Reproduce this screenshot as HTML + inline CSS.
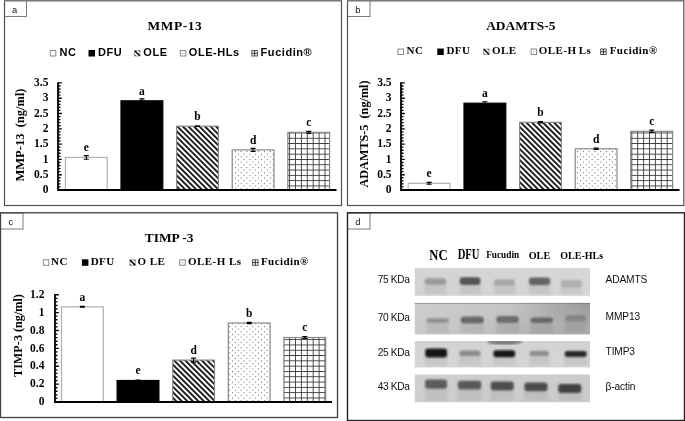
<!DOCTYPE html><html><head><meta charset="utf-8"><style>
html,body{margin:0;padding:0;background:#fff;width:685px;height:421px;overflow:hidden}
svg{display:block;filter:grayscale(1)}
.lt{font-family:'Liberation Serif', serif;font-weight:bold;font-size:11.5px;fill:#000}
.tk{font-family:'Liberation Serif', serif;font-weight:bold;fill:#000}
.ti{font-family:'Liberation Serif', serif;font-weight:bold;font-size:13.4px;fill:#000}
.yt{font-family:'Liberation Serif', serif;font-weight:bold;font-size:12.2px;fill:#000}
.yt2{font-family:'Liberation Serif', serif;font-weight:bold;font-size:12.5px;fill:#000}
.lgs{font-family:'Liberation Sans', sans-serif;font-weight:bold;font-size:11px;letter-spacing:0.55px;fill:#000}
.lgr{font-family:'Liberation Serif', serif;font-weight:bold;font-size:11px;letter-spacing:0.45px;fill:#000}
.pl{font-family:'Liberation Sans', sans-serif;font-size:9.4px;fill:#111}
.kd{font-family:'Liberation Sans', sans-serif;font-size:10.2px;fill:#111}
</style></head><body>
<svg width="685" height="421" viewBox="0 0 685 421">
<defs>
<pattern id="stripe" patternUnits="userSpaceOnUse" width="3.9" height="3.9" patternTransform="rotate(-45)"><rect x="0" y="0" width="3.9" height="3.9" fill="#fff"/><rect x="0" y="0" width="1.7" height="3.9" fill="#000"/></pattern>
<pattern id="dots" patternUnits="userSpaceOnUse" width="5.8" height="5.3"><rect width="5.8" height="5.3" fill="#fff"/><rect x="0" y="0" width="1" height="1" fill="#666"/><rect x="2.9" y="2.65" width="1" height="1" fill="#666"/></pattern>
<pattern id="grid" patternUnits="userSpaceOnUse" width="5.9" height="5.3"><rect width="5.9" height="5.3" fill="#fff"/><rect x="0" y="0" width="0.9" height="5.3" fill="#3a3a3a"/><rect x="0" y="0" width="5.9" height="0.9" fill="#3a3a3a"/></pattern>
<filter id="blur1"><feGaussianBlur stdDeviation="1.2"/></filter>
<filter id="blur2"><feGaussianBlur stdDeviation="1.5"/></filter>
<linearGradient id="gA" x1="0" y1="0" x2="1" y2="0"><stop offset="0" stop-color="#d3d3d3"/><stop offset="1" stop-color="#d6d6d6"/></linearGradient>
<linearGradient id="gB" x1="0" y1="0" x2="1" y2="0.3"><stop offset="0" stop-color="#cdcdcd"/><stop offset="0.5" stop-color="#c6c6c6"/><stop offset="1" stop-color="#adadad"/></linearGradient>
<linearGradient id="gC" x1="0" y1="0" x2="0" y2="1"><stop offset="0" stop-color="#d2d2d2"/><stop offset="1" stop-color="#d6d6d6"/></linearGradient>
<linearGradient id="gD" x1="0" y1="0" x2="1" y2="0"><stop offset="0" stop-color="#cfcfcf"/><stop offset="1" stop-color="#cbcbcb"/></linearGradient>
<radialGradient id="gBt" cx="1" cy="0" r="0.75" gradientTransform="translate(1 0) scale(0.6 1) translate(-1 0)"><stop offset="0" stop-color="#000" stop-opacity="0.13"/><stop offset="1" stop-color="#000" stop-opacity="0"/></radialGradient>
</defs>
<rect width="685" height="421" fill="#fff"/>
<text x="147.5" y="30.3" class="ti" style="letter-spacing:0.6px">MMP-13</text>
<rect x="50.3" y="50.5" width="5.5" height="5.5" fill="#fff" stroke="#888" stroke-width="1"/>
<text x="59.4" y="56.2" class="lgs">NC</text>
<rect x="88.5" y="50" width="6.5" height="6.5" fill="#000"/>
<text x="97.9" y="56.2" class="lgs">DFU</text>
<rect x="134.5" y="50.5" width="5.5" height="5.5" fill="#fff" stroke="#aaa" stroke-width="1"/>
<path d="M134.8 50.8L139.8 55.8" stroke="#000" stroke-width="1.5"/>
<path d="M138.8 50.6L140.2 52M134.6 54.8L135.8 56" stroke="#333" stroke-width="1"/>
<text x="143.3" y="56.2" class="lgs">OLE</text>
<rect x="180.3" y="50.5" width="5.5" height="5.5" fill="#fff" stroke="#888" stroke-width="1"/>
<rect x="182.3" y="53" width="1" height="1" fill="#777"/>
<text x="188.8" y="56.2" class="lgs">OLE-HLs</text>
<rect x="251.9" y="50.5" width="5.5" height="5.5" fill="#fff" stroke="#555" stroke-width="1"/>
<path d="M254.65 50.5V56M251.9 53.25H257.4" stroke="#333" stroke-width="1"/>
<text x="260.6" y="56.2" class="lgs">Fucidin®</text>
<rect x="65.4" y="157.4" width="41.8" height="32.6" fill="#fff" stroke="#b0b0b0" stroke-width="1.2"/>
<path d="M86.3 155.6V159.2M83.8 155.6h5M83.8 159.2h5" stroke="#000" stroke-width="1.1" fill="none"/>
<text x="86.3" y="151.3" text-anchor="middle" class="lt">e</text>
<rect x="121" y="100.8" width="41.8" height="89.2" fill="#000" stroke="#000" stroke-width="1.2"/>
<path d="M141.9 98.9V102.7M139.4 98.9h5M139.4 102.7h5" stroke="#000" stroke-width="1.1" fill="none"/>
<text x="141.9" y="94.7" text-anchor="middle" class="lt">a</text>
<rect x="176.6" y="126.2" width="41.8" height="63.8" fill="url(#stripe)" stroke="#888" stroke-width="1.2"/>
<path d="M195 126.2h5" stroke="#000" stroke-width="1.6" fill="none"/>
<text x="197.5" y="120.1" text-anchor="middle" class="lt">b</text>
<rect x="232.2" y="149.9" width="41.8" height="40.1" fill="url(#dots)" stroke="#888" stroke-width="1.2"/>
<path d="M253.1 148.4V151.4M250.6 148.4h5M250.6 151.4h5" stroke="#000" stroke-width="1.1" fill="none"/>
<text x="253.1" y="143.8" text-anchor="middle" class="lt">d</text>
<rect x="287.8" y="132.4" width="41.8" height="57.6" fill="url(#grid)" stroke="#888" stroke-width="1.2"/>
<path d="M308.7 131.4V133.4M306.2 131.4h5M306.2 133.4h5" stroke="#000" stroke-width="1.1" fill="none"/>
<text x="308.7" y="126.3" text-anchor="middle" class="lt">c</text>
<path d="M58 190h3.8M58 186.94h2.5M58 183.88h2.5M58 180.82h2.5M58 177.76h2.5M58 174.7h3.8M58 171.64h2.5M58 168.58h2.5M58 165.52h2.5M58 162.46h2.5M58 159.4h3.8M58 156.34h2.5M58 153.28h2.5M58 150.22h2.5M58 147.16h2.5M58 144.1h3.8M58 141.04h2.5M58 137.98h2.5M58 134.92h2.5M58 131.86h2.5M58 128.8h3.8M58 125.74h2.5M58 122.68h2.5M58 119.62h2.5M58 116.56h2.5M58 113.5h3.8M58 110.44h2.5M58 107.38h2.5M58 104.32h2.5M58 101.26h2.5M58 98.2h3.8M58 95.14h2.5M58 92.08h2.5M58 89.02h2.5M58 85.96h2.5M58 82.9h3.8" stroke="#000" stroke-width="1.35" fill="none"/>
<path d="M58 82.3V190H336.5" stroke="#000" stroke-width="1.8" fill="none"/>
<text x="48.4" y="193.2" text-anchor="end" class="tk" style="font-size:11.5px">0</text>
<text x="48.4" y="177.9" text-anchor="end" class="tk" style="font-size:11.5px">0.5</text>
<text x="48.4" y="162.6" text-anchor="end" class="tk" style="font-size:11.5px">1</text>
<text x="48.4" y="147.3" text-anchor="end" class="tk" style="font-size:11.5px">1.5</text>
<text x="48.4" y="132" text-anchor="end" class="tk" style="font-size:11.5px">2</text>
<text x="48.4" y="116.7" text-anchor="end" class="tk" style="font-size:11.5px">2.5</text>
<text x="48.4" y="101.4" text-anchor="end" class="tk" style="font-size:11.5px">3</text>
<text x="48.4" y="86.1" text-anchor="end" class="tk" style="font-size:11.5px">3.5</text>
<text transform="translate(24,181.5) rotate(-90)" class="yt2" xml:space="preserve">MMP-13  (ng/ml)</text>
<text x="486.2" y="30.3" class="ti">ADAMTS-5</text>
<rect x="398.0" y="49.0" width="5.5" height="5.5" fill="#fff" stroke="#888" stroke-width="1"/>
<text x="406.5" y="54.4" class="lgr">NC</text>
<rect x="437.3" y="48.5" width="6.5" height="6.5" fill="#000"/>
<text x="446.4" y="54.4" class="lgr">DFU</text>
<rect x="483.6" y="49.0" width="5.5" height="5.5" fill="#fff" stroke="#aaa" stroke-width="1"/>
<path d="M483.90000000000003 49.3L488.90000000000003 54.3" stroke="#000" stroke-width="1.5"/>
<path d="M487.90000000000003 49.1L489.3 50.5M483.70000000000005 53.3L484.90000000000003 54.5" stroke="#333" stroke-width="1"/>
<text x="491.9" y="54.4" class="lgr">OLE</text>
<rect x="531.1" y="49.0" width="5.5" height="5.5" fill="#fff" stroke="#888" stroke-width="1"/>
<rect x="533.1" y="51.5" width="1" height="1" fill="#777"/>
<text x="538.8" y="54.4" class="lgr">OLE-H<tspan dx="2.2">Ls</tspan></text>
<rect x="600.7" y="49.0" width="5.5" height="5.5" fill="#fff" stroke="#555" stroke-width="1"/>
<path d="M603.45 49.0V54.5M600.7 51.75H606.2" stroke="#333" stroke-width="1"/>
<text x="609.7" y="54.4" class="lgr">Fucidin®</text>
<rect x="408.2" y="183.3" width="41.8" height="6.7" fill="#fff" stroke="#b0b0b0" stroke-width="1.2"/>
<path d="M429.1 182.4V184.2M426.6 182.4h5M426.6 184.2h5" stroke="#000" stroke-width="1.1" fill="none"/>
<text x="429.1" y="177.2" text-anchor="middle" class="lt">e</text>
<rect x="464" y="103.2" width="41.8" height="86.8" fill="#000" stroke="#000" stroke-width="1.2"/>
<path d="M484.9 101.7V104.7M482.4 101.7h5M482.4 104.7h5" stroke="#000" stroke-width="1.1" fill="none"/>
<text x="484.9" y="97.1" text-anchor="middle" class="lt">a</text>
<rect x="519.6" y="122.3" width="41.8" height="67.7" fill="url(#stripe)" stroke="#888" stroke-width="1.2"/>
<path d="M540.5 121.6V123M538 121.6h5M538 123h5" stroke="#000" stroke-width="1.1" fill="none"/>
<text x="540.5" y="116.2" text-anchor="middle" class="lt">b</text>
<rect x="575.2" y="148.8" width="41.8" height="41.2" fill="url(#dots)" stroke="#888" stroke-width="1.2"/>
<path d="M596.1 148.1V149.5M593.6 148.1h5M593.6 149.5h5" stroke="#000" stroke-width="1.1" fill="none"/>
<text x="596.1" y="142.7" text-anchor="middle" class="lt">d</text>
<rect x="630.8" y="131.3" width="41.8" height="58.7" fill="url(#grid)" stroke="#888" stroke-width="1.2"/>
<path d="M651.7 130.1V132.5M649.2 130.1h5M649.2 132.5h5" stroke="#000" stroke-width="1.1" fill="none"/>
<text x="651.7" y="125.2" text-anchor="middle" class="lt">c</text>
<path d="M401 190h3.8M401 186.94h2.5M401 183.88h2.5M401 180.82h2.5M401 177.76h2.5M401 174.7h3.8M401 171.64h2.5M401 168.58h2.5M401 165.52h2.5M401 162.46h2.5M401 159.4h3.8M401 156.34h2.5M401 153.28h2.5M401 150.22h2.5M401 147.16h2.5M401 144.1h3.8M401 141.04h2.5M401 137.98h2.5M401 134.92h2.5M401 131.86h2.5M401 128.8h3.8M401 125.74h2.5M401 122.68h2.5M401 119.62h2.5M401 116.56h2.5M401 113.5h3.8M401 110.44h2.5M401 107.38h2.5M401 104.32h2.5M401 101.26h2.5M401 98.2h3.8M401 95.14h2.5M401 92.08h2.5M401 89.02h2.5M401 85.96h2.5M401 82.9h3.8" stroke="#000" stroke-width="1.35" fill="none"/>
<path d="M401 82.3V190H679.5" stroke="#000" stroke-width="1.8" fill="none"/>
<text x="391.5" y="193.2" text-anchor="end" class="tk" style="font-size:11.5px">0</text>
<text x="391.5" y="177.9" text-anchor="end" class="tk" style="font-size:11.5px">0.5</text>
<text x="391.5" y="162.6" text-anchor="end" class="tk" style="font-size:11.5px">1</text>
<text x="391.5" y="147.3" text-anchor="end" class="tk" style="font-size:11.5px">1.5</text>
<text x="391.5" y="132" text-anchor="end" class="tk" style="font-size:11.5px">2</text>
<text x="391.5" y="116.7" text-anchor="end" class="tk" style="font-size:11.5px">2.5</text>
<text x="391.5" y="101.4" text-anchor="end" class="tk" style="font-size:11.5px">3</text>
<text x="391.5" y="86.1" text-anchor="end" class="tk" style="font-size:11.5px">3.5</text>
<text transform="translate(368,187.5) rotate(-90)" class="yt" xml:space="preserve">ADAMTS-5  (ng/ml)</text>
<text x="144.8" y="241.6" class="ti" xml:space="preserve">TIMP -3</text>
<rect x="43.3" y="259.8" width="5.5" height="5.5" fill="#fff" stroke="#888" stroke-width="1"/>
<text x="51" y="265.2" class="lgr" xml:space="preserve">NC</text>
<rect x="81.9" y="259.3" width="6.5" height="6.5" fill="#000"/>
<text x="90.7" y="265.2" class="lgr" xml:space="preserve">DFU</text>
<rect x="129.8" y="259.8" width="5.5" height="5.5" fill="#fff" stroke="#aaa" stroke-width="1"/>
<path d="M130.10000000000002 260.1L135.10000000000002 265.1" stroke="#000" stroke-width="1.5"/>
<path d="M134.10000000000002 259.90000000000003L135.5 261.3M129.9 264.1L131.10000000000002 265.3" stroke="#333" stroke-width="1"/>
<text x="137.5" y="265.2" class="lgr" xml:space="preserve">O LE</text>
<rect x="179.7" y="259.8" width="5.5" height="5.5" fill="#fff" stroke="#888" stroke-width="1"/>
<rect x="181.7" y="262.3" width="1" height="1" fill="#777"/>
<text x="188" y="265.2" class="lgr" xml:space="preserve">OLE-H Ls</text>
<rect x="252.6" y="259.8" width="5.5" height="5.5" fill="#fff" stroke="#555" stroke-width="1"/>
<path d="M255.35 259.8V265.3M252.6 262.55H258.1" stroke="#333" stroke-width="1"/>
<text x="260.9" y="265.2" class="lgr" xml:space="preserve">Fucidin®</text>
<rect x="61.5" y="306.8" width="41.8" height="95.2" fill="#fff" stroke="#b0b0b0" stroke-width="1.2"/>
<path d="M82.4 306.3V307.3M79.9 306.3h5M79.9 307.3h5" stroke="#000" stroke-width="1.1" fill="none"/>
<text x="82.4" y="300.7" text-anchor="middle" class="lt">a</text>
<rect x="117.1" y="380.5" width="41.8" height="21.5" fill="#000" stroke="#000" stroke-width="1.2"/>
<path d="M138 380.1V380.9M135.5 380.1h5M135.5 380.9h5" stroke="#000" stroke-width="1.1" fill="none"/>
<text x="138" y="374.4" text-anchor="middle" class="lt">e</text>
<rect x="172.7" y="360.1" width="41.8" height="41.9" fill="url(#stripe)" stroke="#888" stroke-width="1.2"/>
<path d="M193.6 358.1V362.1M191.1 358.1h5M191.1 362.1h5" stroke="#000" stroke-width="1.1" fill="none"/>
<text x="193.6" y="354" text-anchor="middle" class="lt">d</text>
<rect x="228.3" y="323" width="41.8" height="79" fill="url(#dots)" stroke="#888" stroke-width="1.2"/>
<path d="M249.2 322.4V323.6M246.7 322.4h5M246.7 323.6h5" stroke="#000" stroke-width="1.1" fill="none"/>
<text x="249.2" y="316.9" text-anchor="middle" class="lt">b</text>
<rect x="283.9" y="337.5" width="41.8" height="64.5" fill="url(#grid)" stroke="#888" stroke-width="1.2"/>
<path d="M304.8 336.5V338.5M302.3 336.5h5M302.3 338.5h5" stroke="#000" stroke-width="1.1" fill="none"/>
<text x="304.8" y="331.4" text-anchor="middle" class="lt">c</text>
<path d="M55 402h3.8M55 398.42h2.5M55 394.85h2.5M55 391.27h2.5M55 387.7h2.5M55 384.12h3.8M55 380.54h2.5M55 376.97h2.5M55 373.39h2.5M55 369.82h2.5M55 366.24h3.8M55 362.66h2.5M55 359.09h2.5M55 355.51h2.5M55 351.94h2.5M55 348.36h3.8M55 344.78h2.5M55 341.21h2.5M55 337.63h2.5M55 334.06h2.5M55 330.48h3.8M55 326.9h2.5M55 323.33h2.5M55 319.75h2.5M55 316.18h2.5M55 312.6h3.8M55 309.02h2.5M55 305.45h2.5M55 301.87h2.5M55 298.3h2.5M55 294.72h3.8" stroke="#000" stroke-width="1.35" fill="none"/>
<path d="M55 294.12V402H332" stroke="#000" stroke-width="1.8" fill="none"/>
<text x="44.4" y="405.2" text-anchor="end" class="tk" style="font-size:11.5px">0</text>
<text x="44.4" y="387.32" text-anchor="end" class="tk" style="font-size:11.5px">0.2</text>
<text x="44.4" y="369.44" text-anchor="end" class="tk" style="font-size:11.5px">0.4</text>
<text x="44.4" y="351.56" text-anchor="end" class="tk" style="font-size:11.5px">0.6</text>
<text x="44.4" y="333.68" text-anchor="end" class="tk" style="font-size:11.5px">0.8</text>
<text x="44.4" y="315.8" text-anchor="end" class="tk" style="font-size:11.5px">1</text>
<text x="44.4" y="297.92" text-anchor="end" class="tk" style="font-size:11.5px">1.2</text>
<text transform="translate(21.8,377) rotate(-90)" class="yt" xml:space="preserve">TIMP-3 (ng/ml)</text>
<text x="429.3" y="259.6" style="font-family:'Liberation Serif', serif;font-weight:bold;font-size:14px" transform="translate(429.3 0) scale(0.9 1) translate(-429.3 0)">NC</text>
<text x="457.7" y="259" style="font-family:'Liberation Serif', serif;font-weight:bold;font-size:14px" transform="translate(457.7 0) scale(0.76 1) translate(-457.7 0)">DFU</text>
<text x="486.2" y="257.7" style="font-family:'Liberation Serif', serif;font-weight:bold;font-size:10.3px" transform="translate(486.2 0) scale(0.9 1) translate(-486.2 0)">Fucudin</text>
<text x="528.7" y="258.7" style="font-family:'Liberation Serif', serif;font-weight:bold;font-size:10.2px">OLE</text>
<text x="560.3" y="258.7" style="font-family:'Liberation Serif', serif;font-weight:bold;font-size:10px">OLE-HLs</text>
<rect x="414.8" y="268.1" width="175.2" height="27.7" fill="url(#gA)"/>
<g filter="url(#blur2)">
<rect x="424.3" y="284.9" width="22.2" height="9.4" fill="#000" opacity="0.07"/>
<rect x="459.4" y="285" width="21.3" height="9.3" fill="#000" opacity="0.07"/>
<rect x="493.6" y="286" width="21.7" height="8.3" fill="#000" opacity="0.07"/>
<rect x="528.7" y="285.3" width="21.8" height="9" fill="#000" opacity="0.07"/>
<rect x="560.5" y="288" width="21.7" height="6.3" fill="#000" opacity="0.07"/>
</g>
<g filter="url(#blur1)">
<rect x="424.6" y="278.3" width="21.6" height="6.6" rx="3" fill="#9a9a9a"/>
<rect x="459.7" y="277.3" width="20.7" height="7.7" rx="3" fill="#555"/>
<rect x="493.9" y="279.6" width="21.1" height="6.4" rx="3" fill="#a6a6a6"/>
<rect x="529" y="277.6" width="21.2" height="7.7" rx="3" fill="#636363"/>
<rect x="560.8" y="280.1" width="21.1" height="7.9" rx="3" fill="#b0b0b0"/>
</g>
<text x="409.6" y="283.2" text-anchor="end" class="kd" style="letter-spacing:-0.35px">75 KDa</text>
<text x="605.6" y="282.6" class="kd" style="letter-spacing:-0.15px">ADAMTS</text>
<rect x="414.8" y="302.9" width="175.2" height="31.5" fill="url(#gB)"/>
<g filter="url(#blur2)">
<rect x="426.2" y="323" width="23" height="9.9" fill="#000" opacity="0.07"/>
<rect x="460.3" y="323.4" width="23.7" height="9.5" fill="#000" opacity="0.07"/>
<rect x="496.1" y="323" width="23" height="9.9" fill="#000" opacity="0.07"/>
<rect x="530.2" y="323" width="23" height="9.9" fill="#000" opacity="0.07"/>
<rect x="565.1" y="321.5" width="21.5" height="11.4" fill="#000" opacity="0.07"/>
</g>
<g filter="url(#blur1)">
<rect x="426.5" y="318.2" width="22.4" height="4.8" rx="3" fill="#8e8e8e"/>
<rect x="460.6" y="316.4" width="23.1" height="7" rx="3" fill="#686868"/>
<rect x="496.4" y="316.1" width="22.4" height="6.9" rx="3" fill="#6c6c6c"/>
<rect x="530.5" y="317.4" width="22.4" height="5.6" rx="3" fill="#686868"/>
<rect x="565.4" y="315.3" width="20.9" height="6.2" rx="3" fill="#8a8a8a"/>
</g>
<text x="409.6" y="321" text-anchor="end" class="kd" style="letter-spacing:-0.35px">70 KDa</text>
<text x="605.6" y="320.4" class="kd" style="letter-spacing:-0.15px">MMP13</text>
<rect x="414.8" y="341" width="175.2" height="26.5" fill="url(#gC)"/>
<g filter="url(#blur2)">
<rect x="424.9" y="357.4" width="22.5" height="8.6" fill="#000" opacity="0.07"/>
<rect x="459" y="356.3" width="21.9" height="9.7" fill="#000" opacity="0.07"/>
<rect x="493.1" y="357.2" width="22.4" height="8.8" fill="#000" opacity="0.07"/>
<rect x="529.3" y="356.3" width="19.9" height="9.7" fill="#000" opacity="0.07"/>
<rect x="564.3" y="357.1" width="22.8" height="8.9" fill="#000" opacity="0.07"/>
</g>
<g filter="url(#blur1)">
<rect x="425.2" y="348.6" width="21.9" height="8.8" rx="3" fill="#161616"/>
<rect x="459.3" y="350.6" width="21.3" height="5.7" rx="3" fill="#8a8a8a"/>
<rect x="493.4" y="350.2" width="21.8" height="7" rx="3" fill="#121212"/>
<rect x="529.6" y="350.8" width="19.3" height="5.5" rx="3" fill="#8e8e8e"/>
<rect x="564.6" y="350.9" width="22.2" height="6.2" rx="3" fill="#262626"/>
</g>
<text x="409.6" y="355.9" text-anchor="end" class="kd" style="letter-spacing:-0.35px">25 KDa</text>
<text x="605.6" y="355.3" class="kd" style="letter-spacing:-0.15px">TIMP3</text>
<rect x="414.8" y="374.5" width="175.2" height="27.7" fill="url(#gD)"/>
<g filter="url(#blur2)">
<rect x="424.7" y="388.8" width="22.7" height="11.9" fill="#000" opacity="0.07"/>
<rect x="457.5" y="389.5" width="24.1" height="11.2" fill="#000" opacity="0.07"/>
<rect x="490.4" y="390.5" width="23.7" height="10.2" fill="#000" opacity="0.07"/>
<rect x="524.1" y="391.3" width="23.7" height="9.4" fill="#000" opacity="0.07"/>
<rect x="557.9" y="392.9" width="23.7" height="7.8" fill="#000" opacity="0.07"/>
</g>
<g filter="url(#blur1)">
<rect x="425" y="379.5" width="22.1" height="9.3" rx="3" fill="#5c5c5c"/>
<rect x="457.8" y="380.8" width="23.5" height="8.7" rx="3" fill="#585858"/>
<rect x="490.7" y="381.6" width="23.1" height="8.9" rx="3" fill="#505050"/>
<rect x="524.4" y="382.4" width="23.1" height="8.9" rx="3" fill="#4c4c4c"/>
<rect x="558.2" y="384.1" width="23.1" height="8.8" rx="3" fill="#414141"/>
</g>
<text x="409.6" y="390.1" text-anchor="end" class="kd" style="letter-spacing:-0.35px">43 KDa</text>
<text x="605.6" y="389.5" class="kd" style="letter-spacing:-0.15px">β-actin</text>
<g filter="url(#blur1)"><path d="M487 341H523Q521 343.5 512 344.2Q500 345 489 343.2Z" fill="#5a5a5a" opacity="0.85"/></g>
<rect x="414.8" y="339" width="175.2" height="2" fill="#fff"/>
<rect x="414.8" y="302.9" width="175.2" height="1.2" fill="#8a8a8a" opacity="0.7"/>
<rect x="414.8" y="302.9" width="175.2" height="31.5" fill="url(#gBt)"/>
<rect x="4.5" y="0.5" width="22" height="16" fill="#fff" stroke="#7a7a7a" stroke-width="1"/>
<text x="14.5" y="12.8" text-anchor="middle" class="pl">a</text>
<rect x="347.5" y="0.5" width="22.5" height="16" fill="#fff" stroke="#7a7a7a" stroke-width="1"/>
<text x="357.75" y="12.8" text-anchor="middle" class="pl">b</text>
<rect x="0.5" y="213.0" width="22.5" height="16.0" fill="#fff" stroke="#7a7a7a" stroke-width="1"/>
<text x="10.75" y="225.3" text-anchor="middle" class="pl">c</text>
<rect x="347.5" y="213.0" width="22.5" height="16.0" fill="#fff" stroke="#7a7a7a" stroke-width="1"/>
<text x="357.75" y="225.3" text-anchor="middle" class="pl">d</text>
<rect x="4.5" y="0.5" width="337" height="205" fill="none" stroke="#505050" stroke-width="1.2"/>
<rect x="347.5" y="0.5" width="336.3" height="205" fill="none" stroke="#505050" stroke-width="1.2"/>
<rect x="0.5" y="212.8" width="337" height="204.7" fill="none" stroke="#404040" stroke-width="1.3"/>
<rect x="347.5" y="212.8" width="337" height="207.7" fill="none" stroke="#222" stroke-width="1.4"/>
<path d="M4 0.8H342M347 0.8H684.5" stroke="#7a7a7a" stroke-width="1.6"/>
</svg></body></html>
